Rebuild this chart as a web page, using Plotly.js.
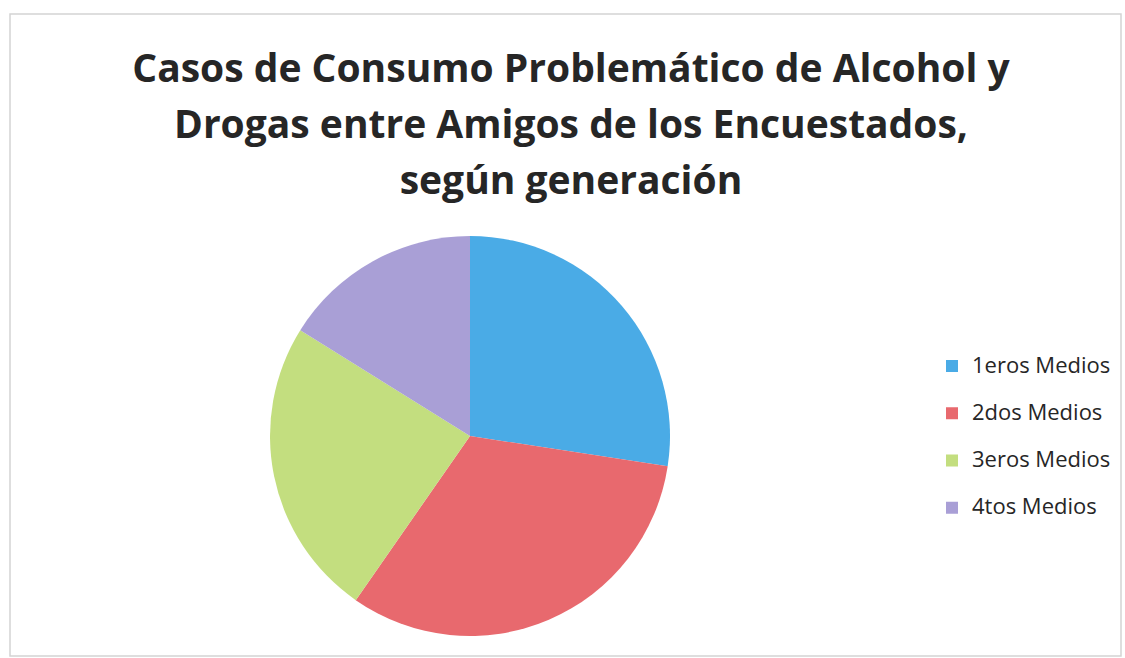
<!DOCTYPE html>
<html>
<head>
<meta charset="utf-8">
<script src="https://cdn.plot.ly/plotly-3.0.1.min.js"></script>
<style>html,body{margin:0;padding:0;background:#fff;}#chart{width:1125px;height:658px;}</style>
</head>
<body>
<div id="chart"></div>
<script>
// Data
const categories = ["1eros Medios", "2dos Medios", "3eros Medios", "4tos Medios"];
const values = [17, 20, 15, 10];
const colors = ["#4aabe6", "#e8696e", "#c3de7f", "#a99fd6"];
const titleLines = ["Casos de Consumo Problemático de Alcohol y", "Drogas entre Amigos de los Encuestados,", "según generación"];

const W = 1125, H = 658;
// legend labels: larger glyphs, blank second line to widen row spacing
const legendLabels = categories.map(c => '<span style="font-size:22px">' + c + '</span><br> ');

const trace = {
  type: "pie",
  labels: legendLabels,
  values: values,
  marker: {colors: colors, line: {width: 0}},
  sort: false,
  direction: "clockwise",
  rotation: 0,
  textinfo: "none",
  hoverinfo: "label+value+percent",
  domain: {x: [270 / W, 670 / W], y: [(H - 636) / H, (H - 236) / H]}
};

const layout = {
  width: W, height: H,
  margin: {l: 0, r: 0, t: 0, b: 0},
  paper_bgcolor: "#ffffff",
  font: {family: "Open Sans, sans-serif", color: "#262626"},
  title: {
    text: '<span style="font-size:39px">' + titleLines.join("<br>") + '</span>',
    font: {family: "Open Sans", size: 43, weight: 700, color: "#262626"},
    x: 571 / W, xanchor: "center", xref: "paper",
    y: 1 - 82 / H, yanchor: "top", yref: "container"
  },
  showlegend: true,
  legend: {
    x: 932 / W, xanchor: "left",
    y: 0.5 - 119 / H, yanchor: "middle",
    valign: "top",
    font: {family: "Open Sans", size: 17, color: "#262626"},
    itemwidth: 30,
    bgcolor: "rgba(0,0,0,0)"
  },
  shapes: [{
    type: "rect", xref: "paper", yref: "paper",
    x0: 10 / W, x1: 1121 / W, y0: (H - 656) / H, y1: (H - 14) / H,
    line: {color: "#d4d4d4", width: 1.5}, fillcolor: "rgba(0,0,0,0)"
  }]
};

Plotly.newPlot("chart", [trace], layout, {displayModeBar: false, staticPlot: true});
</script>
</body>
</html>
